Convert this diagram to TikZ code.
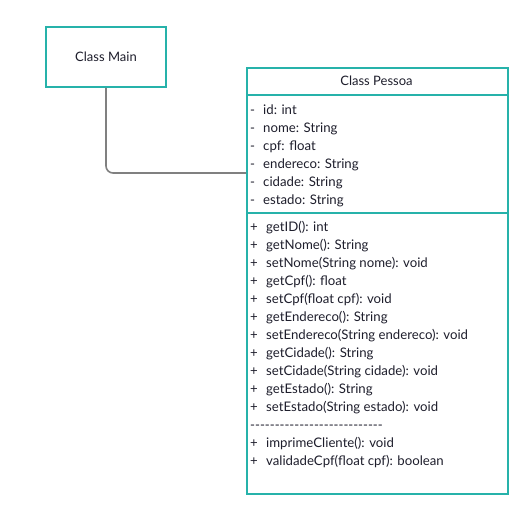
\documentclass[tikz,border=0pt]{standalone}
\usepackage{fontspec}
\setmainfont{Lato}
\usepackage{tikz}
\usetikzlibrary{positioning}
\usepackage{xcolor}
\definecolor{umlteal}{RGB}{38,178,170}
\definecolor{umlgray}{RGB}{128,128,128}
\definecolor{umltext}{RGB}{30,30,44}
\tikzstyle{classbox} = [rectangle, draw=umlteal, line width=2pt, fill=white, text=umltext, font=\fontsize{13}{15}\selectfont]
\tikzstyle{member} = [anchor=base west, inner sep=0pt, text=umltext, font=\fontsize{13.2}{18}\selectfont]
\tikzstyle{link} = [line width=1.6pt, color=umlgray, rounded corners=7pt]
\newcommand{\hyphenrow}{\foreach \k in {1,...,27}{-\kern0pt}}

\begin{document}
\begin{tikzpicture}[x=1pt, y=-1pt]
    \useasboundingbox (0,0) rectangle (521,513);

    % Main
    \node[classbox, minimum width=120pt, minimum height=60pt] (main) at (106,57) {Class Main};

    % Pessoa
    \node[classbox, minimum width=261pt, minimum height=426pt, anchor=north west] (pessoa) at (246,67) {};
    \node[text=umltext, font=\fontsize{13}{15}\selectfont] (title) at (376.5,81) {Class Pessoa};
    \draw[umlteal, line width=2pt] (pessoa.north west) ++(0,28) -- ++(261,0);
    \draw[umlteal, line width=2pt] (pessoa.north west) ++(0,146) -- ++(261,0);

    % Attributes
    \node[member] (attrs) at (250,114.5) {\begin{tabular}[t]{@{}p{13pt}@{}l@{}}
        - & id: int\\
        - & nome: String\\
        - & cpf: float\\
        - & endereco: String\\
        - & cidade: String\\
        - & estado: String
    \end{tabular}};

    % Methods
    \node[member] (methods) at (250,231) {\begin{tabular}[t]{@{}p{16pt}@{}l@{}}
        + & getID(): int\\
        + & getNome(): String\\
        + & setNome(String nome): void\\
        + & getCpf(): float\\
        + & setCpf(float cpf): void\\
        + & getEndereco(): String\\
        + & setEndereco(String endereco): void\\
        + & getCidade(): String\\
        + & setCidade(String cidade): void\\
        + & getEstado(): String\\
        + & setEstado(String estado): void\\
        \multicolumn{2}{@{}l@{}}{\hyphenrow}\\
        + & imprimeCliente(): void\\
        + & validadeCpf(float cpf): boolean
    \end{tabular}};

    % Link
    \coordinate (hook) at (246,173);
    \draw[link] (main.south) |- (hook);
\end{tikzpicture}
\end{document}
